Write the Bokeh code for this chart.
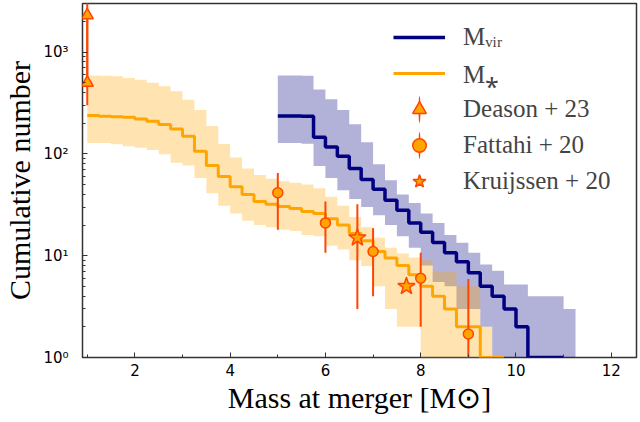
import numpy as np
from bokeh.plotting import figure
from bokeh.models import (Range1d, SingleIntervalTicker, FixedTicker, Legend, LegendItem)
from bokeh.embed import file_html
from bokeh.resources import INLINE

# ---------------- data ----------------
bin_width = 0.25

mstar_start = 1.0
mstar_median = [238, 234, 232, 229, 220, 209, 194, 176, 149, 106, 77, 60, 47.5, 40,
                34, 32, 30.5, 29, 27.2, 26, 23, 20, 16.5, 14, 11, 9.5, 8, 6.5, 5, 4,
                3, 2, 2, 1, 1]
mstar_upper = [590, 585, 578, 556, 536, 500, 461, 412, 341, 270, 188, 125, 92, 72,
               62, 57, 54, 52, 50, 46, 38, 31, 24, 19, 15, 12, 10.5, 9.6, 9, 7, 7,
               5, 5, 2]
mstar_lower = [128, 128, 124, 119, 115, 109, 99, 82, 77, 58, 41, 31, 26, 22, 20, 19,
               18, 17.5, 16, 15.5, 12.5, 11.5, 9, 7.9, 5, 3, 2, 2, 0, 0, 0, 0, 0, 0]

mvir_start = 5.0
mvir_median = [236, 236, 234, 146, 117, 95, 72, 56, 45, 35, 28, 21, 17, 13.5, 10.7,
               8.7, 6.8, 5, 4, 3, 2, 1, 1, 1]
mvir_upper = [590, 590, 585, 428, 345, 270, 195, 130, 79, 55, 40, 33, 26, 21, 16,
              13.4, 10.7, 8.2, 7.1, 5.2, 5.2, 4, 4, 4, 3]
mvir_lower = [128, 128, 126, 76, 58, 44, 36, 30, 25, 20, 15.5, 12, 8, 5.5, 5, 3, 3,
              2, 0, 0, 0, 0, 0, 0, 0]

deason_x = [1.0, 1.0]
deason_y = [2300, 500]
deason_lo = [500, 300]
deason_hi = [5000, 2300]

fattahi_x = [5, 6, 7, 8, 9]
fattahi_y = [41.5, 21, 11, 6, 1.7]
fattahi_lo = [18, 10.7, 4, 2, 0]
fattahi_hi = [65, 34, 18.6, 10.7, 5.9]

kruijssen_x = [6.67, 7.7]
kruijssen_y = [15, 5]
kruijssen_bar_x = [6.67]
kruijssen_lo = [3.0]
kruijssen_hi = [32]

x_major_interval = 2
y_major_ticks = [1, 10, 100, 1000]
y_tick_labels = ["10\u2070", "10\u00b9", "10\u00b2", "10\u00b3"]

# ---------------- helpers ----------------
FLOOR = 0.1  # zero values are drawn down past the bottom of the log axis


def step_xy(start, vals):
    vals = np.asarray(vals, dtype=float)
    edges = start + bin_width * np.arange(len(vals) + 1)
    xs = np.repeat(edges, 2)[1:-1]
    ys = np.repeat(vals, 2)
    return xs, ys


p = figure(width=640, height=422, output_backend="svg", toolbar_location=None,
           x_range=Range1d(0.9, 12.53), y_range=Range1d(1, 3000), y_axis_type="log",
           min_border_left=82, min_border_right=4, min_border_top=3,
           min_border_bottom=65)
p.xgrid.visible = False
p.ygrid.visible = False
p.outline_line_color = "#333333"
p.outline_line_width = 1.5
p.background_fill_color = "white"
p.border_fill_color = "white"

# bands
xb, lob = step_xy(mvir_start, mvir_lower)
_, hib = step_xy(mvir_start, mvir_upper)
p.varea(x=xb, y1=np.clip(lob, FLOOR, None), y2=hib, fill_color="navy", fill_alpha=0.3)

xo, loo = step_xy(mstar_start, mstar_lower)
_, hio = step_xy(mstar_start, mstar_upper)
p.varea(x=xo, y1=np.clip(loo, FLOOR, None), y2=hio, fill_color="orange", fill_alpha=0.3)

# medians
xm, ym = step_xy(mvir_start, mvir_median)
r_vir = p.line(xm, ym, line_color="navy", line_width=3.5)
xs_, ys_ = step_xy(mstar_start, mstar_median)
r_star = p.line(xs_, ys_, line_color="orange", line_width=3)

# observations
bar_col = "orangered"
p.segment(x0=deason_x, y0=deason_lo, x1=deason_x, y1=deason_hi,
          line_color=bar_col, line_width=2)
p.segment(x0=fattahi_x, y0=np.clip(fattahi_lo, FLOOR, None), x1=fattahi_x,
          y1=fattahi_hi, line_color=bar_col, line_width=2)
p.segment(x0=kruijssen_bar_x, y0=kruijssen_lo, x1=kruijssen_bar_x, y1=kruijssen_hi,
          line_color=bar_col, line_width=2)

# thin upright ellipses at the points (hidden under the markers); in the legend
# they appear as the vertical error-bar stroke
d_bar = p.ellipse(deason_x, deason_y, width=0.6, height=8, width_units="screen",
                  height_units="screen", fill_color=bar_col, line_color=None)
f_bar = p.ellipse(fattahi_x, fattahi_y, width=0.6, height=8, width_units="screen",
                  height_units="screen", fill_color=bar_col, line_color=None)

r_deason = p.scatter(deason_x, deason_y, marker="triangle", size=12,
                     fill_color="orange", line_color=bar_col, line_width=1.5)
r_fattahi = p.scatter(fattahi_x, fattahi_y, marker="circle", size=10,
                      fill_color="orange", line_color=bar_col, line_width=1.5)
r_kru = p.scatter(kruijssen_x, kruijssen_y, marker="star", size=18,
                  fill_color="orange", line_color=bar_col, line_width=1.5)

# axes
tick_col = "#333333"
p.xaxis.ticker = SingleIntervalTicker(interval=x_major_interval, num_minor_ticks=2)
p.yaxis.ticker = FixedTicker(ticks=y_major_ticks,
                             minor_ticks=[m * t for t in y_major_ticks for m in range(2, 10)])
p.yaxis.major_label_overrides = dict(zip(y_major_ticks, y_tick_labels))
p.xaxis.axis_label = "Mass at merger [M\u2299]"
p.yaxis.axis_label = "Cumulative number"

for ax in (p.xaxis[0], p.yaxis[0]):
    ax.axis_line_color = None
    ax.major_tick_in = 5
    ax.major_tick_out = 0
    ax.minor_tick_in = 3
    ax.minor_tick_out = 0
    ax.major_tick_line_color = tick_col
    ax.minor_tick_line_color = tick_col
    ax.major_label_text_font = "DejaVu Sans"
    ax.major_label_text_font_size = "15px"
    ax.major_label_text_color = "black"
    ax.axis_label_text_font = "Liberation Serif"
    ax.axis_label_text_font_size = "30px"
    ax.axis_label_text_font_style = "normal"
    ax.axis_label_text_color = "black"
p.xaxis.major_label_standoff = 6
p.xaxis.axis_label_standoff = 2
p.yaxis.major_label_standoff = 14
p.yaxis.axis_label_standoff = 4

legend = Legend(items=[
    LegendItem(label="M\u1d65\u1d62\u1d63", renderers=[r_vir]),
    LegendItem(label="M\u204e", renderers=[r_star]),
    LegendItem(label="Deason + 23", renderers=[d_bar, r_deason]),
    LegendItem(label="Fattahi + 20", renderers=[f_bar, r_fattahi]),
    LegendItem(label="Kruijssen + 20", renderers=[r_kru]),
], location=(311, 159))
legend.label_text_font = "Liberation Serif"
legend.label_text_font_size = "25px"
legend.glyph_width = 52
legend.glyph_height = 34
legend.label_height = 34
legend.spacing = 2
legend.label_standoff = 18
legend.padding = 10
legend.margin = 0
legend.border_line_color = None
legend.background_fill_alpha = 0
p.add_layout(legend)

open("out.html", "w").write(file_html(p, INLINE))
